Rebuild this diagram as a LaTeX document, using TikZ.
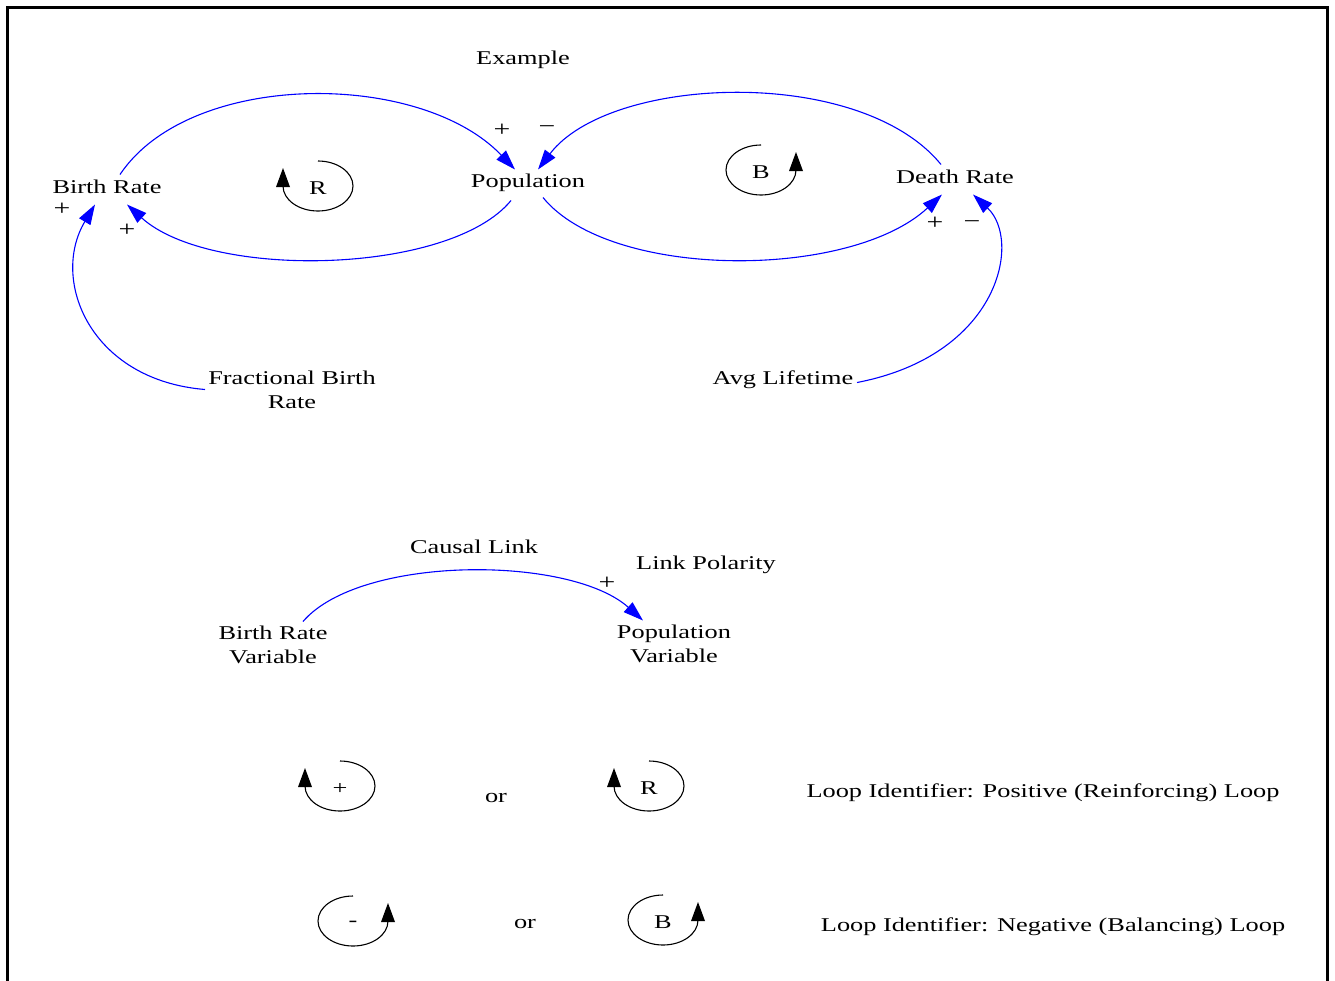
\documentclass[tikz,border=0pt]{standalone}
\usepackage{fontspec}
\setmainfont{Liberation Serif}[FakeStretch=1.35]
\usetikzlibrary{arrows.meta}
\tikzset{
  lbl/.style={font=\fontsize{19.5}{24}\selectfont, inner sep=1pt, align=center, yshift=-2.5pt},
  sign/.style={font=\fontsize{22}{24}\selectfont, inner sep=1pt, yshift=-2pt},
  link/.style={draw=blue, line width=1.1pt, -{Triangle[length=20pt,width=13pt,fill=blue]}},
  loopline/.style={draw=black, line width=1.1pt},
  pics/posloop/.style={code={
    \draw[loopline] (0,-25) arc[start angle=-90, end angle=180, x radius=35, y radius=25];
    \fill[black] (-42,1) -- (-28,1) -- (-35,-18) -- cycle;
    \node[lbl] (lbl) at (0,0) {#1};
  }},
  pics/negloop/.style={code={
    \draw[loopline] (0,-25) arc[start angle=-90, end angle=-360, x radius=35, y radius=25];
    \fill[black] (28,1) -- (42,1) -- (35,-18) -- cycle;
    \node[lbl] (lbl) at (0,0) {#1};
  }},
}
\begin{document}
\begin{tikzpicture}[x=1pt,y=-1pt]
\useasboundingbox (0,0) rectangle (1335,980);
\fill[white] (0,0) rectangle (1335,980);
\draw[line width=3.5pt] (7.5,7.5) rectangle (1327.5,1000);

% top example
\node[lbl] (ex) at (523,57) {Example};
\node[lbl] (br) at (107,184) {Birth Rate};
\node[lbl] (pop) at (528,180) {Population};
\node[lbl] (dr) at (955,174) {Death Rate};
\node[lbl] (fbr) at (292,387) {Fractional Birth\\Rate};
\node[lbl] (al) at (783,377) {Avg Lifetime};

\node[sign] (s1) at (62,207) {+};
\node[sign] (s2) at (127,228) {+};
\node[sign] (s3) at (502,128) {+};
\node[sign] (s4) at (547,128) {−};
\node[sign] (s5) at (935,221) {+};
\node[sign] (s6) at (972,223) {−};

\pic (lR) at (318,186) {posloop=R};
\pic (lB) at (761,170) {negloop=B};

\draw[link] ([shift={(13,-12)}]br.center) .. controls (190,70) and (420,70) .. ([shift={(-13,-13)}]pop.center);
\draw[link] ([shift={(-17,18)}]pop.center) .. controls (450,275) and (210,280) .. ([shift={(20,18)}]br.center);
\draw[link] ([shift={(-14,-12)}]dr.center) .. controls (860,65) and (610,75) .. ([shift={(10,-13)}]pop.center);
\draw[link] ([shift={(15,15)}]pop.center) .. controls (610,280) and (850,280) .. ([shift={(-13,18)}]dr.center);
\draw[link] ([shift={(-87,0)}]fbr.center) .. controls (90,380) and (50,280) .. ([shift={(-12,18)}]br.center);
\draw[link] ([shift={(74,3)}]al.center) .. controls (1000,355) and (1022,240) .. ([shift={(18,18)}]dr.center);

% legend
\node[lbl] (cl) at (474,544) {Causal Link};
\node[lbl] (lp) at (706,562) {Link Polarity};
\node[sign] (s7) at (607,581) {+};
\node[lbl] (brv) at (273,642) {Birth Rate\\Variable};
\node[lbl] (pv) at (674,641) {Population\\Variable};
\draw[link] ([shift={(30,-23)}]brv.center) .. controls (360,555) and (570,555) .. ([shift={(-31,-23)}]pv.center);

\pic (l1) at (340,786) {posloop=+};
\node[lbl] (or1) at (496,795) {or};
\pic (l2) at (649,786) {posloop=R};
\node[lbl] (li1) at (1043,790) {Loop Identifier: Positive (Reinforcing) Loop};

\pic (l3) at (353,921) {negloop=-};
\node[lbl] (or2) at (525,921) {or};
\pic (l4) at (663,920) {negloop=B};
\node[lbl] (li2) at (1053,924) {Loop Identifier: Negative (Balancing) Loop};
\end{tikzpicture}
\end{document}
